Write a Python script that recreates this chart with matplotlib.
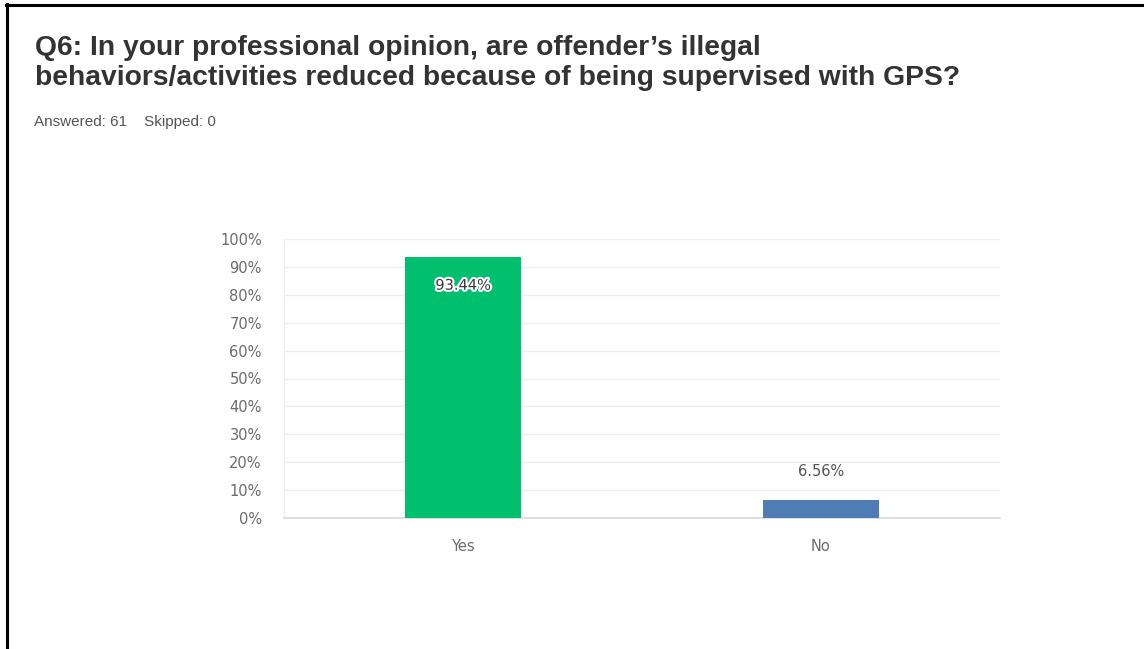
import matplotlib
matplotlib.use("Agg")
import matplotlib.pyplot as plt
import matplotlib.patheffects as pe
from matplotlib.ticker import FuncFormatter

# Survey responses
categories = ["Yes", "No"]
percentages = [93.44, 6.56]
bar_colors = ["#00bf6f", "#507cb6"]
y_ticks = [0, 10, 20, 30, 40, 50, 60, 70, 80, 90, 100]

title_lines = ["Q6: In your professional opinion, are offender\u2019s illegal",
               "behaviors/activities reduced because of being supervised with GPS?"]
subtitle = "Answered: 61    Skipped: 0"

W, H = 1144, 649
plt.rcParams["font.family"] = ["Liberation Sans", "DejaVu Sans"]

fig = plt.figure(figsize=(W / 100, H / 100), dpi=100)
fig.patch.set_facecolor("white")


def fy(px):
    """Convert a pixel row (from the top) to a figure fraction."""
    return 1 - px / H


# Frame lines along the top and left edges
fig.add_artist(plt.Line2D([6 / W, 1.0], [fy(4.5), fy(4.5)],
                          color="black", lw=2.2, transform=fig.transFigure))
fig.add_artist(plt.Line2D([7 / W, 7 / W], [0, fy(4)],
                          color="black", lw=2.2, transform=fig.transFigure))

for line, base in zip(title_lines, [55, 85]):
    fig.text(35 / W, fy(base), line, ha="left", va="baseline",
             fontsize=20.3, fontweight="bold", color="#333333")
fig.text(34 / W, fy(122), subtitle, ha="left", va="center",
         fontsize=11, color="#555555")

ax = fig.add_axes([284 / W, fy(518), 716 / W, 279 / H])
x = list(range(len(categories)))
ax.bar(x, percentages, width=0.325, color=bar_colors, zorder=3)

tick_font = ["DejaVu Sans"]
ax.set_xlim(-0.5, len(categories) - 0.5)
ax.set_ylim(0, 100)
ax.set_yticks(y_ticks)
ax.yaxis.set_major_formatter(FuncFormatter(lambda v, _: f"{int(v)}%"))
ax.set_xticks(x)
ax.set_xticklabels(categories)
ax.tick_params(axis="both", length=0, labelsize=10.5, colors="#6b6b6b")
ax.tick_params(axis="y", pad=16)
ax.tick_params(axis="x", pad=15)
for lbl in ax.get_yticklabels() + ax.get_xticklabels():
    lbl.set_fontfamily(tick_font)

ax.grid(axis="y", color="#ededed", lw=1, zorder=0)
for side in ["top", "right"]:
    ax.spines[side].set_visible(False)
ax.spines["left"].set_color("#eeeeee")
ax.spines["bottom"].set_color("#d9d9d9")
ax.spines["bottom"].set_linewidth(1.2)

# Value labels
for xi, val in zip(x, percentages):
    label = f"{val:.2f}%"
    if val > 50:
        ax.text(xi, val - 10, label, ha="center", va="center", fontsize=10.5,
                family=tick_font, color="#3a3a3a", zorder=4,
                path_effects=[pe.withStroke(linewidth=3, foreground="white")])
    else:
        ax.text(xi, val + 10, label, ha="center", va="center", fontsize=10.5,
                family=tick_font, color="#555555", zorder=4)

fig.savefig("out.png", dpi=100, facecolor="white")
